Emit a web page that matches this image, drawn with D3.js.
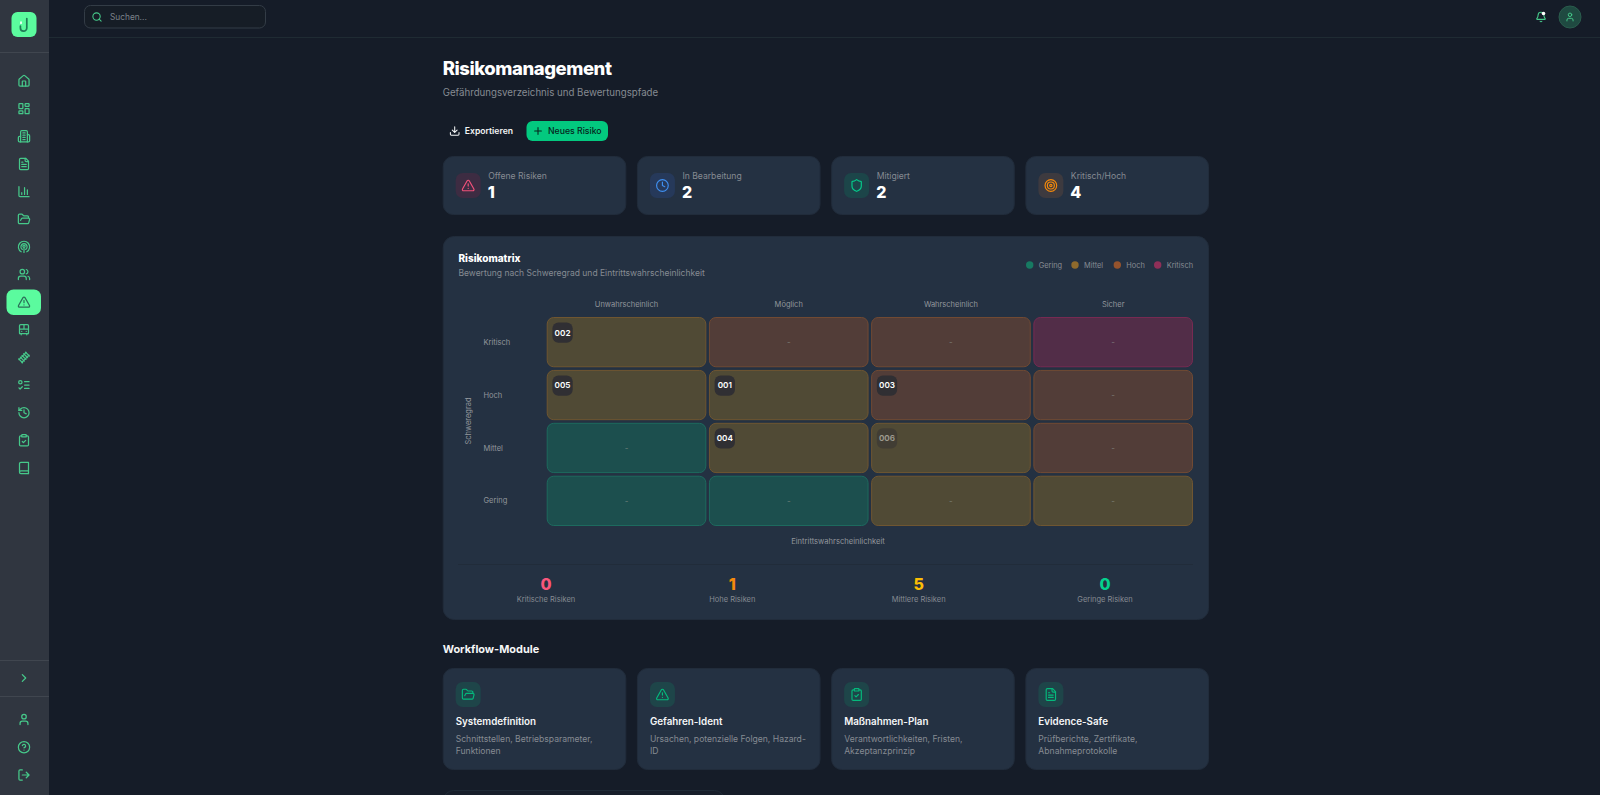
<!DOCTYPE html>
<html lang="de">
<head>
<meta charset="utf-8">
<title>Risikomanagement</title>
<script src="https://cdn.jsdelivr.net/npm/d3@7"></script>
<style>
  html, body { margin: 0; padding: 0; background: #151c28; overflow: hidden; }
  svg { display: block; font-family: Inter, "Noto Sans", sans-serif; }
</style>
</head>
<body>
<svg id="page" width="1600" height="795"></svg>
<script>
// chart data
const likelihoods = ['Unwahrscheinlich', 'Möglich', 'Wahrscheinlich', 'Sicher'];
const severities = ['Kritisch', 'Hoch', 'Mittel', 'Gering'];
const levels = ['Gering', 'Mittel', 'Hoch', 'Kritisch'];
const matrixLevels = [
  ['Mittel', 'Hoch', 'Hoch', 'Kritisch'],
  ['Mittel', 'Mittel', 'Hoch', 'Hoch'],
  ['Gering', 'Mittel', 'Mittel', 'Hoch'],
  ['Gering', 'Gering', 'Mittel', 'Mittel']
];
const risks = [
  { id: '002', severity: 'Kritisch', likelihood: 'Unwahrscheinlich' },
  { id: '005', severity: 'Hoch', likelihood: 'Unwahrscheinlich' },
  { id: '001', severity: 'Hoch', likelihood: 'Möglich' },
  { id: '003', severity: 'Hoch', likelihood: 'Wahrscheinlich' },
  { id: '004', severity: 'Mittel', likelihood: 'Möglich' },
  { id: '006', severity: 'Mittel', likelihood: 'Wahrscheinlich', muted: true }
];
const kpiLabels = ['Offene Risiken', 'In Bearbeitung', 'Mitigiert', 'Kritisch/Hoch'];
const kpiValues = [1, 2, 2, 4];
const kpiIcons = ['alert', 'clock', 'shield', 'target'];
const summaryLabels = ['Kritische Risiken', 'Hohe Risiken', 'Mittlere Risiken', 'Geringe Risiken'];
const summaryValues = [0, 1, 5, 0];
const moduleTitles = ['Systemdefinition', 'Gefahren-Ident', 'Maßnahmen-Plan', 'Evidence-Safe'];
const moduleLines = [
  ['Schnittstellen, Betriebsparameter,', 'Funktionen'],
  ['Ursachen, potenzielle Folgen, Hazard-', 'ID'],
  ['Verantwortlichkeiten, Fristen,', 'Akzeptanzprinzip'],
  ['Prüfberichte, Zertifikate,', 'Abnahmeprotokolle']
];
const moduleIcons = ['folder', 'alert', 'clipboard', 'file'];
const navTop = ['home', 'grid', 'building', 'file', 'bars', 'folder', 'radio', 'users', 'alert', 'train', 'rail', 'checks', 'history', 'clipboard', 'book'];
const navBottom = ['user', 'help', 'logout'];

// lucide style icon outlines, 24x24 box
const icons = {
  home: '<path d="M15 21v-8a1 1 0 0 0-1-1h-4a1 1 0 0 0-1 1v8"/><path d="M3 10a2 2 0 0 1 .709-1.528l7-5.999a2 2 0 0 1 2.582 0l7 5.999A2 2 0 0 1 21 10v9a2 2 0 0 1-2 2H5a2 2 0 0 1-2-2z"/>',
  grid: '<rect x="3" y="3" width="7" height="9" rx="1"/><rect x="14" y="3" width="7" height="5" rx="1"/><rect x="14" y="12" width="7" height="9" rx="1"/><rect x="3" y="16" width="7" height="5" rx="1"/>',
  building: '<path d="M6 22V4a2 2 0 0 1 2-2h8a2 2 0 0 1 2 2v18Z"/><path d="M6 12H4a2 2 0 0 0-2 2v6a2 2 0 0 0 2 2h2"/><path d="M18 9h2a2 2 0 0 1 2 2v9a2 2 0 0 1-2 2h-2"/><path d="M10 6h4M10 10h4M10 14h4M10 18h4"/>',
  file: '<path d="M15 2H6a2 2 0 0 0-2 2v16a2 2 0 0 0 2 2h12a2 2 0 0 0 2-2V7Z"/><path d="M14 2v4a2 2 0 0 0 2 2h4"/><path d="M10 9H8M16 13H8M16 17H8"/>',
  bars: '<path d="M3 3v16a2 2 0 0 0 2 2h16"/><path d="M18 17V9M13 17V5M8 17v-3"/>',
  folder: '<path d="m6 14 1.5-2.9A2 2 0 0 1 9.24 10H20a2 2 0 0 1 1.94 2.5l-1.54 6a2 2 0 0 1-1.95 1.5H4a2 2 0 0 1-2-2V5a2 2 0 0 1 2-2h3.9a2 2 0 0 1 1.69.9l.81 1.2a2 2 0 0 0 1.67.9H18a2 2 0 0 1 2 2v2"/>',
  radio: '<path d="M7 20.7A10 10 0 1 1 17 20.7"/><path d="M9 16.5a5.5 5.5 0 1 1 6 0"/><circle cx="12" cy="11" r="2"/><path d="M12 14v8"/>',
  users: '<path d="M16 21v-2a4 4 0 0 0-4-4H6a4 4 0 0 0-4 4v2"/><circle cx="9" cy="7" r="4"/><path d="M22 21v-2a4 4 0 0 0-3-3.87"/><path d="M16 3.13a4 4 0 0 1 0 7.75"/>',
  alert: '<path d="m21.73 18-8-14a2 2 0 0 0-3.48 0l-8 14A2 2 0 0 0 4 21h16a2 2 0 0 0 1.73-3"/><path d="M12 9v4M12 17h.01"/>',
  train: '<path d="M6 3h12a2 2 0 0 1 2 2v13a1 1 0 0 1-1 1H5a1 1 0 0 1-1-1V5a2 2 0 0 1 2-2z"/><path d="M4 11h16M12 3v8M7 19v2M17 19v2M8 15h.01M16 15h.01"/>',
  rail: '<path d="M3 16 16 3M8 21 21 8M5.5 11.5l7 7M8.5 8.5l7 7M11.5 5.5l7 7M2.5 14.5l7 7M14.5 2.5l7 7"/>',
  checks: '<path d="m3 17 2 2 4-4M13 6h8M13 12h8M13 18h8"/><circle cx="5.5" cy="7" r="3"/>',
  history: '<path d="M3 12a9 9 0 1 0 9-9 9.75 9.75 0 0 0-6.74 2.74L3 8"/><path d="M3 3v5h5M12 7v5l4 2"/>',
  clipboard: '<rect x="8" y="2" width="8" height="4" rx="1"/><path d="M16 4h2a2 2 0 0 1 2 2v14a2 2 0 0 1-2 2H6a2 2 0 0 1-2-2V6a2 2 0 0 1 2-2h2"/><path d="m9 14 2 2 4-4"/>',
  book: '<path d="M4 19.5v-15A2.5 2.5 0 0 1 6.5 2H20v20H6.5a2.5 2.5 0 0 1 0-5H20"/>',
  chevron: '<path d="m9 18 6-6-6-6"/>',
  user: '<path d="M19 21v-2a4 4 0 0 0-4-4H9a4 4 0 0 0-4 4v2"/><circle cx="12" cy="7" r="4"/>',
  help: '<circle cx="12" cy="12" r="10"/><path d="M9.09 9a3 3 0 0 1 5.83 1c0 2-3 3-3 3M12 17h.01"/>',
  logout: '<path d="M9 21H5a2 2 0 0 1-2-2V5a2 2 0 0 1 2-2h4"/><path d="m16 17 5-5-5-5M21 12H9"/>',
  search: '<circle cx="11" cy="11" r="8"/><path d="m21 21-4.3-4.3"/>',
  bell: '<path d="M10.268 21a2 2 0 0 0 3.464 0"/><path d="M3.262 15.326A1 1 0 0 0 4 17h16a1 1 0 0 0 .74-1.673C19.41 13.956 18 12.499 18 8A6 6 0 0 0 6 8c0 4.499-1.411 5.956-2.738 7.326"/>',
  download: '<path d="M21 15v4a2 2 0 0 1-2 2H5a2 2 0 0 1-2-2v-4"/><path d="m7 10 5 5 5-5M12 15V3"/>',
  plus: '<path d="M5 12h14M12 5v14"/>',
  clock: '<circle cx="12" cy="12" r="10"/><path d="M12 6v6l4 2"/>',
  shield: '<path d="M20 13c0 5-3.5 7.5-7.66 8.95a1 1 0 0 1-.67-.01C7.5 20.5 4 18 4 13V6a1 1 0 0 1 1-1c2 0 4.5-1.2 6.24-2.72a1.17 1.17 0 0 1 1.52 0C14.51 3.81 17 5 19 5a1 1 0 0 1 1 1z"/>',
  target: '<circle cx="12" cy="12" r="10"/><circle cx="12" cy="12" r="6"/><circle cx="12" cy="12" r="2"/>'
};

// colours
const green = '#46c98a';
const muted = '#868b92';
const axisGrey = '#92969c';
const cardFill = '#243142';
const cardStroke = '#212c3b';
const levelFill = d3.scaleOrdinal().domain(levels).range(['#1c4f4e', '#504a35', '#523d38', '#522d48']);
const levelStroke = d3.scaleOrdinal().domain(levels).range(['#1d6a5e', '#6f5631', '#714a33', '#772a52']);
const legendFill = d3.scaleOrdinal().domain(levels).range(['#177a62', '#8f6a2c', '#95532d', '#8f2f58']);
const summaryColors = ['#f9577c', '#f58a0b', '#fbbd05', '#04d18e'];
const kpiIconColors = ['#f2517a', '#3f8ff0', '#05c98a', '#f58a0b'];
const kpiIconFills = ['#3d2c42', '#26395a', '#1c4549', '#3d3a3f'];

const svg = d3.select('#page');

function text(parent, x, y, str, size, fill, weight, anchor) {
  return parent.append('text')
    .attr('x', x).attr('y', y)
    .attr('dy', '0.35em')
    .attr('font-size', size)
    .attr('font-weight', weight || 400)
    .attr('text-anchor', anchor || 'start')
    .attr('fill', fill)
    .text(str);
}

function icon(parent, name, cx, cy, size, color, width) {
  const k = size / 24;
  parent.append('g')
    .attr('transform', `translate(${cx - size / 2},${cy - size / 2}) scale(${k})`)
    .attr('fill', 'none')
    .attr('stroke', color)
    .attr('stroke-width', width || 2)
    .attr('stroke-linecap', 'round')
    .attr('stroke-linejoin', 'round')
    .html(icons[name]);
}

function card(parent, x, y, w, h, r) {
  parent.append('rect')
    .attr('x', x + 0.5).attr('y', y + 0.5)
    .attr('width', w - 1).attr('height', h - 1)
    .attr('rx', r)
    .attr('fill', cardFill)
    .attr('stroke', cardStroke);
}

// sidebar
const side = svg.append('g');
side.append('rect').attr('width', 49).attr('height', 795).attr('fill', '#303640');
side.append('rect').attr('x', 11.5).attr('y', 12).attr('width', 25).attr('height', 25).attr('rx', 6).attr('fill', '#5bfb9e');
side.append('path')
  .attr('d', 'M26.8 18.5v9.5a3.2 3.2 0 0 1-6.4 0v-2')
  .attr('fill', 'none').attr('stroke', '#1f7a56').attr('stroke-width', 1.7).attr('stroke-linecap', 'round');
side.append('rect').attr('x', 20).attr('y', 21.5).attr('width', 2).attr('height', 2.4).attr('fill', '#e6fff1');
side.append('path').attr('d', 'M0 52.5H49').attr('stroke', '#40464f');

const navY = d3.scalePoint().domain(d3.range(navTop.length)).range([81, 468]);
side.append('rect').attr('x', 6.5).attr('y', 289.5).attr('width', 34.5).attr('height', 25.5).attr('rx', 7).attr('fill', '#5bfb9e');
navTop.forEach((name, i) => {
  icon(side, name, 24, navY(i), 13.5, name === 'alert' ? '#2c6e58' : green, 2.2);
});
side.append('path').attr('d', 'M0 660.5H49M0 696.5H49').attr('stroke', '#40464f');
icon(side, 'chevron', 24, 678, 13.5, green, 2.2);
const navBottomY = d3.scalePoint().domain(d3.range(navBottom.length)).range([719.5, 775]);
navBottom.forEach((name, i) => icon(side, name, 24, navBottomY(i), 13.5, green, 2.2));

// top bar
const topbar = svg.append('g');
topbar.append('path').attr('d', 'M49 37.5H1600').attr('stroke', '#1f2b33');
topbar.append('rect').attr('x', 84.5).attr('y', 5.5).attr('width', 181).attr('height', 22.5).attr('rx', 6)
  .attr('fill', '#161d26').attr('stroke', '#333c46');
icon(topbar, 'search', 97, 17, 11, green, 2.3);
text(topbar, 110, 17, 'Suchen...', 8.3, '#7d838b');
icon(topbar, 'bell', 1541, 17, 11.5, green, 2.3);
topbar.append('circle').attr('cx', 1543.5).attr('cy', 13.5).attr('r', 1.8).attr('fill', '#fff');
topbar.append('circle').attr('cx', 1570).attr('cy', 17).attr('r', 11).attr('fill', '#1f4a41').attr('stroke', '#2a5c4d');
icon(topbar, 'user', 1570, 17, 10.5, green, 2.2);

// page header
const main = svg.append('g');
text(main, 442.7, 69, 'Risikomanagement', 18.5, '#ffffff', 800).attr('letter-spacing', -0.45);
text(main, 442.7, 92.5, 'Gefährdungsverzeichnis und Bewertungspfade', 9.7, muted);
icon(main, 'download', 454.7, 131, 11.5, '#f2f4f5', 2.2);
text(main, 464.8, 131, 'Exportieren', 8.6, '#f2f4f5', 600);
main.append('rect').attr('x', 526.5).attr('y', 121).attr('width', 81.5).attr('height', 20).attr('rx', 6).attr('fill', '#03c97f');
icon(main, 'plus', 538, 131, 11.5, '#06241c', 2.2);
text(main, 548, 131, 'Neues Risiko', 8.7, '#06241c', 500);

// kpi cards and module cards share the four column grid
const cardX = d3.scaleBand().domain(d3.range(4)).range([442.7, 1209]).paddingInner(0.0545);

kpiLabels.forEach((label, i) => {
  const kx = cardX(i);
  card(main, kx, 156, cardX.bandwidth(), 59, 10);
  main.append('rect').attr('x', kx + 13).attr('y', 173).attr('width', 25).attr('height', 25).attr('rx', 7).attr('fill', kpiIconFills[i]);
  icon(main, kpiIcons[i], kx + 25.5, 185.5, 14, kpiIconColors[i]);
  text(main, kx + 45.5, 176, label, 8.6, muted);
  text(main, kx + 45, 192, kpiValues[i], 16, '#ffffff', 800);
});

// matrix card
const panel = svg.append('g');
card(panel, 442.7, 236, 766.3, 384, 11);
text(panel, 458.5, 258, 'Risikomatrix', 10, '#ffffff', 800);
text(panel, 458.5, 273, 'Bewertung nach Schweregrad und Eintrittswahrscheinlichkeit', 8.5, muted);

const legendDots = [1029.7, 1075, 1117.3, 1157.7];
levels.forEach((level, i) => {
  panel.append('circle').attr('cx', legendDots[i]).attr('cy', 265).attr('r', 3.7).attr('fill', legendFill(level));
  text(panel, legendDots[i] + 9, 265, level, 7.4, muted);
});

const x = d3.scaleBand().domain(likelihoods).range([546.7, 1193]).paddingInner(0.016);
const y = d3.scaleBand().domain(severities).range([317, 526]).paddingInner(0.05);

const cells = severities.flatMap((severity, r) =>
  likelihoods.map((likelihood, c) => ({ severity, likelihood, level: matrixLevels[r][c] })));

panel.append('g').selectAll('rect')
  .data(cells)
  .join('rect')
  .attr('x', d => x(d.likelihood) + 0.5)
  .attr('y', d => y(d.severity) + 0.5)
  .attr('width', x.bandwidth() - 1)
  .attr('height', y.bandwidth() - 1)
  .attr('rx', 6.5)
  .attr('fill', d => levelFill(d.level))
  .attr('stroke', d => levelStroke(d.level));

const occupied = new Set(risks.map(d => d.severity + d.likelihood));
panel.append('g').selectAll('text')
  .data(cells.filter(d => !occupied.has(d.severity + d.likelihood)))
  .join('text')
  .attr('x', d => x(d.likelihood) + x.bandwidth() / 2)
  .attr('y', d => y(d.severity) + y.bandwidth() / 2)
  .attr('dy', '0.35em')
  .attr('text-anchor', 'middle')
  .attr('font-size', 8)
  .attr('fill', '#8a9088')
  .attr('fill-opacity', 0.75)
  .text('-');

const badges = panel.append('g').selectAll('g')
  .data(risks)
  .join('g')
  .attr('transform', d => `translate(${x(d.likelihood) + 5.7},${y(d.severity) + 5.5})`)
  .attr('opacity', d => d.muted ? 0.45 : 1);
badges.append('rect').attr('width', 20.3).attr('height', 20.3).attr('rx', 6).attr('fill', '#302f33');
badges.append('text')
  .attr('x', 10.15).attr('y', 10.15).attr('dy', '0.35em')
  .attr('text-anchor', 'middle')
  .attr('font-size', 8.2).attr('font-weight', 600)
  .attr('fill', '#ffffff')
  .text(d => d.id);

likelihoods.forEach(d => text(panel, x(d) + x.bandwidth() / 2, 304, d, 7.5, axisGrey, 400, 'middle'));
severities.forEach(d => text(panel, 483.5, y(d) + y.bandwidth() / 2, d, 7.5, axisGrey));
text(panel, 0, 0, 'Schweregrad', 7.5, axisGrey, 400, 'middle').attr('transform', 'translate(468,421) rotate(-90)');
text(panel, 838, 541.7, 'Eintrittswahrscheinlichkeit', 7.6, axisGrey, 400, 'middle');
panel.append('path').attr('d', 'M458 564.5H1193').attr('stroke', '#212c3a');

const summaryX = d3.scalePoint().domain(summaryLabels).range([546, 1105]);
summaryLabels.forEach((label, i) => {
  text(panel, summaryX(label), 584, summaryValues[i], 16, summaryColors[i], 800, 'middle');
  text(panel, summaryX(label), 599, label, 7.5, muted, 400, 'middle');
});

// workflow modules
const mods = svg.append('g');
text(mods, 442.7, 649, 'Workflow-Module', 10.9, '#f5f6f7', 700);
moduleTitles.forEach((title, i) => {
  const mx = cardX(i);
  card(mods, mx, 668, cardX.bandwidth(), 102, 10);
  mods.append('rect').attr('x', mx + 13).attr('y', 682).attr('width', 25).attr('height', 25).attr('rx', 7).attr('fill', '#1e4549');
  icon(mods, moduleIcons[i], mx + 25.5, 694.5, 14, '#05b97c');
  text(mods, mx + 13, 721.5, title, 9.8, '#f5f6f7', 600);
  moduleLines[i].forEach((line, j) => text(mods, mx + 13, 738.5 + j * 12.5, line, 8.6, muted));
});

// next panel, cut off by the window edge
mods.append('rect').attr('x', 443.5).attr('y', 790.5).attr('width', 281).attr('height', 30).attr('rx', 10)
  .attr('fill', '#171e2a').attr('stroke', '#1f2a36');
</script>
</body>
</html>
